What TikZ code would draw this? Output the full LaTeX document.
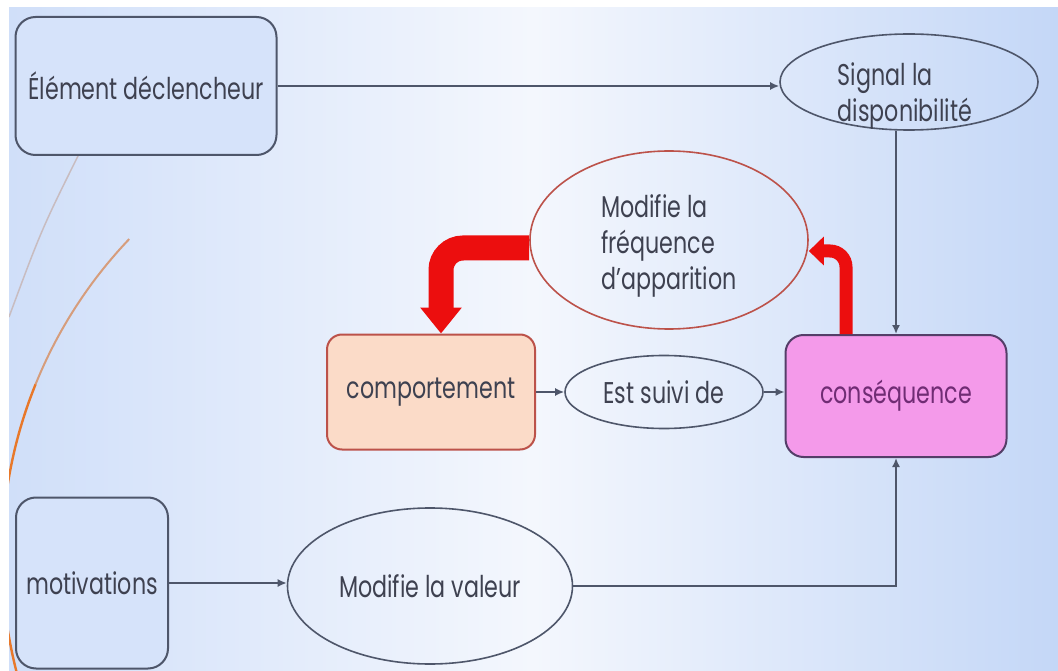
\documentclass[tikz,border=0pt]{standalone}
\usepackage{fontspec}
\setmainfont{Poppins}[FakeStretch=0.74]
\usepackage{xcolor}
\usepackage{tikz}
\usetikzlibrary{
  arrows.meta,
  positioning,
  calc,
  shapes.geometric
}

\definecolor{slideleft}{RGB}{208,223,249}
\definecolor{slideright}{RGB}{196,215,247}
\definecolor{slidemid}{RGB}{244,247,253}
\definecolor{inkgrey}{RGB}{62,65,80}
\definecolor{boxline}{RGB}{78,86,106}
\definecolor{bluefill}{RGB}{214,227,250}
\definecolor{peach}{RGB}{251,219,200}
\definecolor{rustline}{RGB}{188,82,74}
\definecolor{pinkfill}{RGB}{244,154,234}
\definecolor{plumline}{RGB}{84,62,104}
\definecolor{plumtext}{RGB}{112,44,116}
\definecolor{loopred}{RGB}{236,14,14}
\definecolor{accentorange}{RGB}{232,120,42}
\definecolor{faintline}{RGB}{200,188,192}

\begin{document}
\begin{tikzpicture}[x=1pt,y=-1pt,
  font=\fontsize{30}{36}\selectfont, text=inkgrey,
  box/.style={draw=boxline, line width=2pt, rounded corners=20pt, fill=bluefill, align=center},
  oval/.style={ellipse, draw=boxline, line width=1.6pt, inner sep=0pt, align=left},
  arr/.style={draw=boxline, line width=1.6pt, -{Latex[length=9pt,width=8pt]}},
  bigloop/.style={draw=loopred, line width=25pt, rounded corners=22pt, -{Triangle[width=40pt,length=26pt]}},
  smallloop/.style={draw=loopred, line width=13pt, rounded corners=16pt, -{Triangle[width=28pt,length=15pt]}}]

\useasboundingbox (0,0) rectangle (1058,671);
\fill[white] (0,0) rectangle (1058,671);
\shade[left color=slideleft, right color=slideright, middle color=slidemid] (9,8) rectangle (1058,671);

% slide decoration
\begin{scope}
\clip (9,8) rectangle (1058,671);
\draw[faintline, line width=1.5pt] (86,140) .. controls (42,228) .. (9,317);
\draw[accentorange!45!faintline, line width=2pt] (463,557) ++(136.4:461pt) arc[start angle=136.4, end angle=158, radius=461pt];
\draw[accentorange, line width=2.4pt] (463,557) ++(158:461pt) arc[start angle=158, end angle=196, radius=461pt];
\end{scope}

% nodes
\node[box, minimum width=261pt, minimum height=138pt] (elem) at (146,86) {Élément déclencheur};
\node[oval, minimum width=258pt, minimum height=96pt,
  label={[align=left, yshift=-14pt, xshift=-4pt]center:Signal la\\disponibilité}] (signal) at (909,82) {};
\node[oval, draw=rustline, minimum width=278pt, minimum height=178pt,
  label={[align=left, yshift=-6pt]center:Modifie la\\fréquence\\d’apparition}] (freq) at (669,240) {};
\node[box, fill=peach, draw=rustline, rounded corners=15pt, minimum width=208pt, minimum height=115pt] (comp) at (431,392) {comportement};
\node[oval, minimum width=198pt, minimum height=73pt] (suivi) at (664,392) {Est suivi de};
\node[box, fill=pinkfill, draw=plumline, rounded corners=18pt, text=plumtext, minimum width=221pt, minimum height=122pt] (cons) at (896,396) {conséquence};
\node[box, minimum width=152pt, minimum height=171pt] (motiv) at (92,583) {motivations};
\node[oval, minimum width=285pt, minimum height=156pt] (valeur) at (430,586) {Modifie la valeur};

% connectors
\draw[arr] (elem.east) -- (elem.east -| signal.west);
\draw[arr] (cons.north |- signal.south) -- (cons.north);
\draw[arr] (comp.east) -- (suivi.west);
\draw[arr] (suivi.east) -- (suivi.east -| cons.west);
\draw[arr] (motiv.east) -- (motiv.east -| valeur.west);
\draw[arr] (valeur.east) -| (cons.south);

% feedback loop
\draw[bigloop] ([yshift=-8pt]freq.west) -| ([xshift=10pt]comp.north);
\draw[smallloop] ([xshift=-50pt]cons.north) |- ([yshift=-11pt]freq.east);

\end{tikzpicture}
\end{document}
